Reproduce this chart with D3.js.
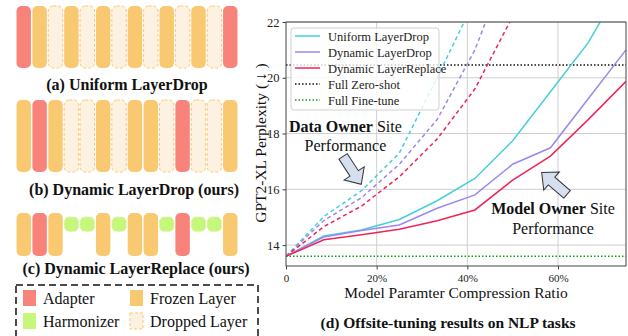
<!DOCTYPE html>
<html>
<head>
<meta charset="utf-8">
<script src="https://cdn.jsdelivr.net/npm/d3@7"></script>
<style>
  body { margin: 0; background: #fff; }
  svg { display: block; font-family: "Liberation Serif", "Times New Roman", serif; }
</style>
</head>
<body>
<svg id="fig" width="628" height="336"></svg>
<script>
// ---- left panel: layer layouts (A adapter, F frozen, D dropped, H harmonizer)
var rowA = ["A","F","D","F","D","F","D","F","D","F","D","F","D","A"];
var rowB = ["F","A","F","D","D","F","D","F","F","D","A","D","D","F"];
var rowC = ["F","A","F","H","H","F","H","F","F","H","A","H","H","F"];
var rowLabels = ["(a) Uniform LayerDrop", "(b) Dynamic LayerDrop (ours)", "(c) Dynamic LayerReplace (ours)"];
var blockKeys = ["A", "H", "F", "D"];
var blockNames = ["Adapter", "Harmonizer", "Frozen Layer", "Dropped Layer"];

// ---- right panel: perplexity vs compression ratio
var ratios = [0, 1/12, 2/12, 3/12, 4/12, 5/12, 6/12, 7/12, 8/12, 9/12];
var uniformModel   = [13.6, 14.33, 14.54, 14.92, 15.59, 16.39, 17.74, 19.5, 21.26, 23.6];
var dynDropModel   = [13.6, 14.29, 14.52, 14.72, 15.32, 15.8, 16.9, 17.49, 19.25, 21.0];
var dynReplModel   = [13.6, 14.19, 14.37, 14.57, 14.87, 15.26, 16.33, 17.19, 18.5, 19.87];
var uniformData    = [13.6, 15.02, 15.95, 17.3, 20.0, 22.8];
var dynDropData    = [13.6, 14.88, 15.7, 16.9, 18.5, 21.0, 24.5];
var dynReplData    = [13.6, 14.66, 15.4, 16.45, 17.8, 19.6, 22.2];
var zeroShot = 20.46;
var fineTune = 13.6;
var xTicks = [0, 0.2, 0.4, 0.6];
var yTicks = [14, 16, 18, 20, 22];
var seriesNames = ["Uniform LayerDrop", "Dynamic LayerDrop", "Dynamic LayerReplace", "Full Zero-shot", "Full Fine-tune"];

var colors = { cyan: "#45cfd9", purple: "#9b87ee", red: "#ef2459" };
var blockFill = { A: "#f8837b", F: "#f9c972", D: "#fdf2e1", H: "#c6f77c" };
var blockStroke = { A: "none", F: "none", D: "#f9c972", H: "#d8f9a8" };

var svg = d3.select("#fig");

// ---------- left diagram ----------
var bx = d3.scaleBand().domain(d3.range(14)).range([16.5, 237.5]).paddingInner(0.09);

function drawRow(row, top, h, smallTop) {
  var g = svg.append("g");
  g.selectAll("rect").data(row).enter().append("rect")
    .attr("x", function(d, i) { return bx(i); })
    .attr("y", function(d) { return d === "H" ? smallTop : top; })
    .attr("width", bx.bandwidth())
    .attr("height", function(d) { return d === "H" ? bx.bandwidth() : h; })
    .attr("rx", 5)
    .attr("fill", function(d) { return blockFill[d]; })
    .attr("stroke", function(d) { return blockStroke[d]; })
    .attr("stroke-dasharray", function(d) { return (d === "D" || d === "H") ? "3,2" : null; })
    .attr("stroke-width", 1);
}
drawRow(rowA, 6, 62);
drawRow(rowB, 100, 72);
drawRow(rowC, 213, 43, 217);

svg.selectAll("text.rowlab").data(rowLabels).enter().append("text")
  .attr("class", "rowlab")
  .attr("x", function(d, i) { return [127, 134, 136][i]; })
  .attr("y", function(d, i) { return [90, 195, 274][i]; })
  .attr("text-anchor", "middle")
  .attr("font-weight", "bold")
  .attr("font-size", 16)
  .attr("fill", "#111")
  .text(function(d) { return d; });

// dashed legend box
svg.append("rect")
  .attr("x", 16).attr("y", 285).attr("width", 242).attr("height", 70)
  .attr("fill", "none").attr("stroke", "#111").attr("stroke-width", 1.5)
  .attr("stroke-dasharray", "7,4");

var leg = svg.selectAll("g.bleg").data(blockKeys).enter().append("g")
  .attr("class", "bleg")
  .attr("transform", function(d, i) {
    return "translate(" + (i < 2 ? 23 : 130) + "," + (i % 2 === 0 ? 290 : 313) + ")";
  });
leg.append("rect")
  .attr("width", 13).attr("height", 16)
  .attr("fill", function(d) { return blockFill[d]; })
  .attr("stroke", function(d) { return d === "D" ? blockStroke[d] : "none"; })
  .attr("stroke-dasharray", "3,2");
leg.append("text")
  .attr("x", 20).attr("y", 14)
  .attr("font-size", 16)
  .attr("fill", "#111")
  .text(function(d) { return blockNames[blockKeys.indexOf(d)]; });

// ---------- right chart ----------
var x = d3.scaleLinear().domain([0, 0.75]).range([286, 626]);
var y = d3.scaleLinear().domain([13.25, 22]).range([266, 22]);

svg.append("clipPath").attr("id", "plotclip")
  .append("rect").attr("x", 286).attr("y", 22).attr("width", 340).attr("height", 244);

// grid
svg.append("g").selectAll("line").data(xTicks.slice(1)).enter().append("line")
  .attr("x1", x).attr("x2", x).attr("y1", 22).attr("y2", 266)
  .attr("stroke", "#cfcfcf").attr("stroke-width", 1);
svg.append("g").selectAll("line").data(yTicks).enter().append("line")
  .attr("y1", y).attr("y2", y).attr("x1", 286).attr("x2", 626)
  .attr("stroke", "#cfcfcf").attr("stroke-width", 1);

var plot = svg.append("g").attr("clip-path", "url(#plotclip)");

// reference lines
plot.append("line").attr("x1", 286).attr("x2", 626).attr("y1", y(zeroShot)).attr("y2", y(zeroShot))
  .attr("stroke", "#111").attr("stroke-width", 1.5).attr("stroke-dasharray", "1.5,2");
plot.append("line").attr("x1", 286).attr("x2", 626).attr("y1", y(fineTune)).attr("y2", y(fineTune))
  .attr("stroke", "#1a9a1a").attr("stroke-width", 1.5).attr("stroke-dasharray", "1.5,2");

var line = d3.line().x(function(d, i) { return x(ratios[i]); }).y(function(d) { return y(d); });

var series = [
  { v: uniformData, c: colors.cyan, dash: "4,3" },
  { v: dynDropData, c: colors.purple, dash: "4,3" },
  { v: dynReplData, c: colors.red, dash: "4,3" },
  { v: uniformModel, c: colors.cyan, dash: null },
  { v: dynDropModel, c: colors.purple, dash: null },
  { v: dynReplModel, c: colors.red, dash: null }
];
plot.selectAll("path.series").data(series).enter().append("path")
  .attr("class", "series")
  .attr("d", function(d) { return line(d.v); })
  .attr("fill", "none")
  .attr("stroke", function(d) { return d.c; })
  .attr("stroke-width", 1.5)
  .attr("stroke-dasharray", function(d) { return d.dash; });

// frame
svg.append("rect").attr("x", 286).attr("y", 22).attr("width", 340).attr("height", 244)
  .attr("fill", "none").attr("stroke", "#444").attr("stroke-width", 1);

// axes
var yAxis = svg.append("g").attr("transform", "translate(286,0)")
  .call(d3.axisLeft(y).tickValues(yTicks).tickSize(3.5).tickPadding(3));
var xAxis = svg.append("g").attr("transform", "translate(0,266)")
  .call(d3.axisBottom(x).tickValues(xTicks).tickSize(3.5).tickPadding(5)
    .tickFormat(function(d) { return d === 0 ? "0" : d3.format(".0%")(d); }));
[yAxis, xAxis].forEach(function(a) {
  a.select(".domain").remove();
  a.selectAll("line").attr("stroke", "#444");
  a.selectAll("text").attr("font-family", "Liberation Serif, Times New Roman, serif").attr("fill", "#222");
});
yAxis.selectAll("text").attr("font-size", 12.5);
xAxis.selectAll("text").attr("font-size", 11);

svg.append("text")
  .attr("transform", "translate(266,143) rotate(-90)")
  .attr("text-anchor", "middle")
  .attr("font-size", 15.5).attr("fill", "#111")
  .text("GPT2-XL Perplexity ( \u2193 )");
svg.append("text")
  .attr("x", 456).attr("y", 298)
  .attr("text-anchor", "middle")
  .attr("font-size", 15.5).attr("fill", "#111")
  .text("Model Paramter Compression Ratio");
svg.append("text")
  .attr("x", 448).attr("y", 328)
  .attr("text-anchor", "middle")
  .attr("font-weight", "bold")
  .attr("font-size", 15.5).attr("fill", "#111")
  .text("(d) Offsite-tuning results on NLP tasks");

// legend
var lg = svg.append("g").attr("transform", "translate(291,28)");
lg.append("rect").attr("width", 148).attr("height", 82).attr("rx", 3)
  .attr("fill", "#fff").attr("fill-opacity", 0.8).attr("stroke", "#d0d0d0");
var legStyle = [
  { c: colors.cyan, dash: null }, { c: colors.purple, dash: null }, { c: colors.red, dash: null },
  { c: "#111", dash: "1.5,2" }, { c: "#1a9a1a", dash: "1.5,2" }
];
var li = lg.selectAll("g").data(seriesNames).enter().append("g")
  .attr("transform", function(d, i) { return "translate(0," + (8 + i * 16) + ")"; });
li.append("line").attr("x1", 4).attr("x2", 29)
  .attr("stroke", function(d, i) { return legStyle[i].c; })
  .attr("stroke-dasharray", function(d, i) { return legStyle[i].dash; })
  .attr("stroke-width", 1.5);
li.append("text").attr("x", 37).attr("y", 4.5)
  .attr("font-size", 12.5).attr("fill", "#222")
  .text(function(d) { return d; });

// annotations
function blockArrow(x0, y0, x1, y1) {
  var px0 = x(x0), py0 = y(y0), px1 = x(x1), py1 = y(y1);
  var L = Math.hypot(px1 - px0, py1 - py0), a = Math.atan2(py1 - py0, px1 - px0) * 180 / Math.PI;
  var w = 10, hw = 24, h = 13;
  var pts = [[0,-w/2],[L-h,-w/2],[L-h,-hw/2],[L,0],[L-h,hw/2],[L-h,w/2],[0,w/2]];
  svg.append("path")
    .attr("d", "M" + pts.join("L") + "Z")
    .attr("transform", "translate(" + px0 + "," + py0 + ") rotate(" + a + ")")
    .attr("fill", "#d5dff0").attr("stroke", "#333").attr("stroke-width", 1);
}
blockArrow(0.126, 17.18, 0.166, 16.18);
blockArrow(0.620, 15.82, 0.564, 16.6);

function annot(cx, yv1, yv2, boldPart) {
  var t = svg.append("text").attr("x", x(cx)).attr("y", y(yv1))
    .attr("text-anchor", "middle").attr("font-size", 16).attr("fill", "#111");
  t.append("tspan").attr("font-weight", "bold").text(boldPart);
  t.append("tspan").text(" Site");
  svg.append("text").attr("x", x(cx)).attr("y", y(yv2))
    .attr("text-anchor", "middle").attr("font-size", 16).attr("fill", "#111")
    .text("Performance");
}
annot(0.131, 18.04, 17.37, "Data Owner");
annot(0.589, 15.12, 14.4, "Model Owner");
</script>
</body>
</html>
